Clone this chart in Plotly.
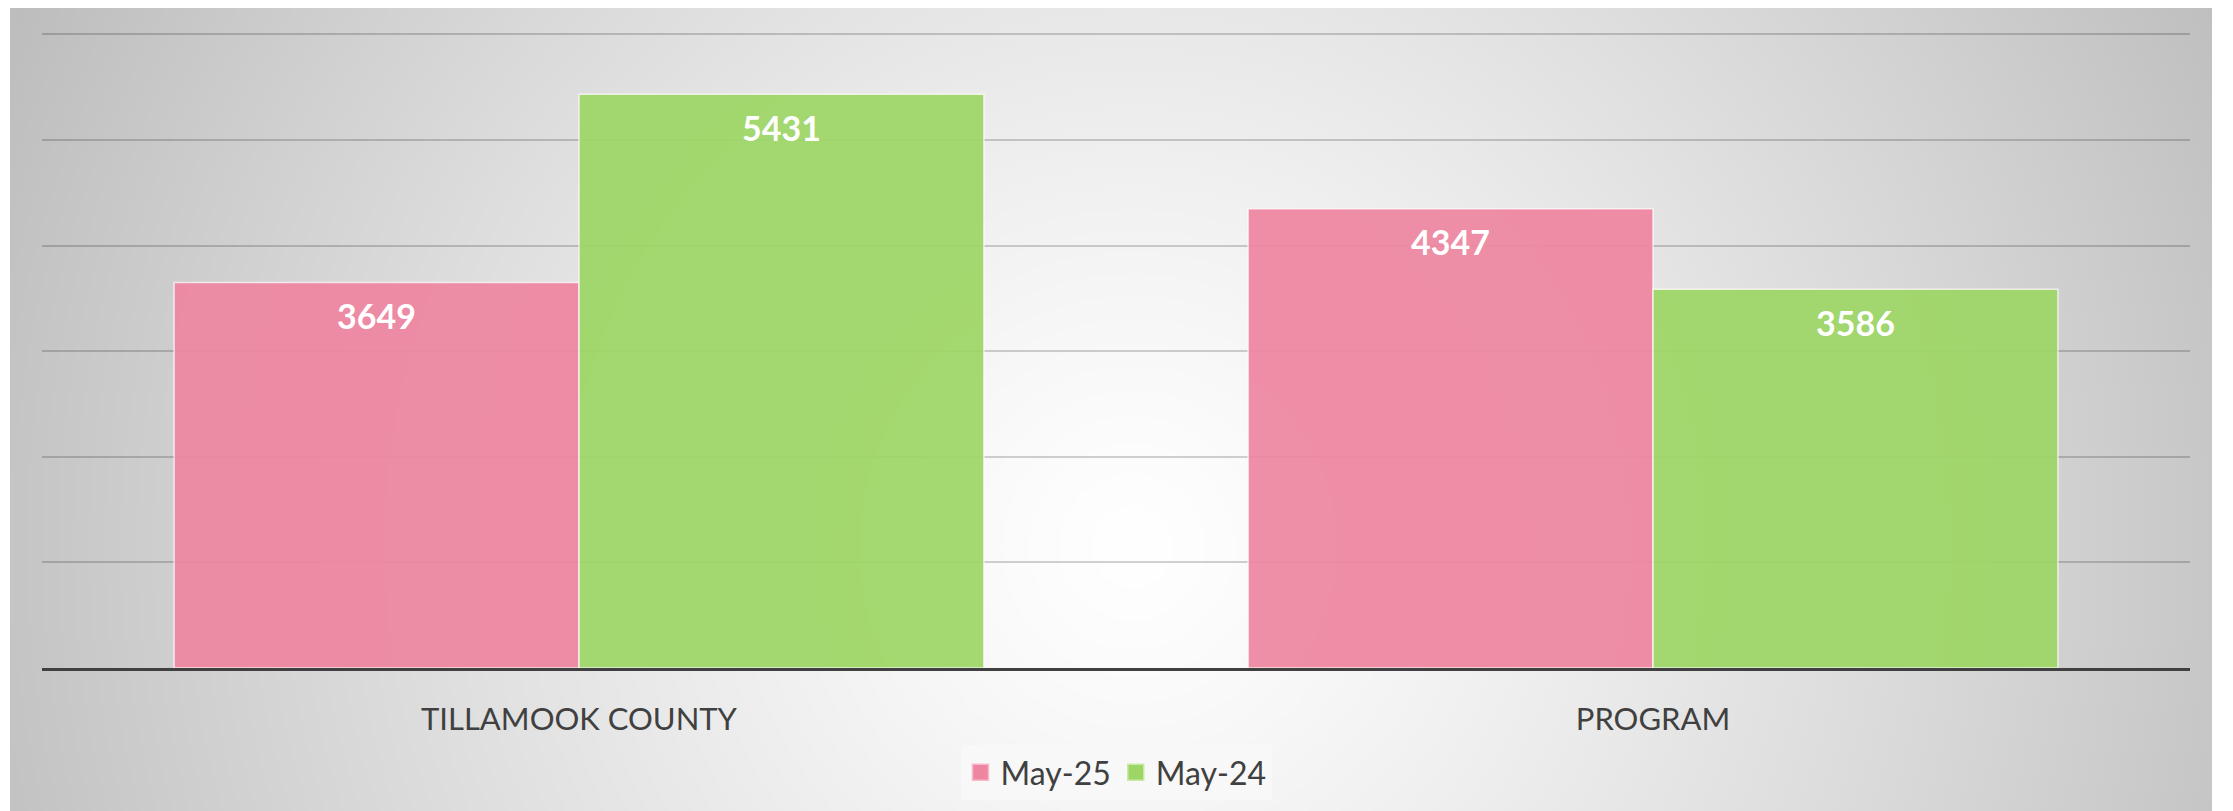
import base64
import struct
import zlib

import plotly.graph_objects as go

categories = ["TILLAMOOK COUNTY", "PROGRAM"]
series_names = ["May-25", "May-24"]
may_25 = [3649, 4347]
may_24 = [5431, 3586]
y_max = 6000
y_step = 1000

COLORS = {
    "pink": "#EF86A1",
    "pink_edge": "#F7B9C9",
    "green": "#9ED666",
    "green_edge": "#C8EAA6",
    "text": "#404040",
    "grid": "rgba(0,0,0,0.18)",
    "legend_bg": "#F8F8F8",
}

# page body has an 8px margin, so the figure is a bit smaller than the window
W, H = 2225, 803
L, R, T, B = 34, 43, 25, 143
PW, PH = W - L - R, H - T - B


def gradient_png(w, h, cx, cy, rmax, lo, hi=255):
    # grey radial backdrop, written as a tiny greyscale png
    rows = []
    for j in range(h):
        row = bytearray([0])
        for i in range(w):
            d = min(((i - cx) ** 2 + (j - cy) ** 2) ** 0.5 / rmax, 1.0)
            row.append(int(hi - (hi - lo) * d ** 1.25))
        rows.append(bytes(row))

    def chunk(tag, data):
        body = tag + data
        return struct.pack(">I", len(data)) + body + struct.pack(">I", zlib.crc32(body) & 0xFFFFFFFF)

    png = (
        b"\x89PNG\r\n\x1a\n"
        + chunk(b"IHDR", struct.pack(">IIBBBBB", w, h, 8, 0, 0, 0, 0))
        + chunk(b"IDAT", zlib.compress(b"".join(rows), 9))
        + chunk(b"IEND", b"")
    )
    return "data:image/png;base64," + base64.b64encode(png).decode()


# frame of the backdrop in figure pixels
fx0, fy0, fx1, fy1 = 2, 0, 2204, 806
scale = 4
bg = gradient_png(
    (fx1 - fx0) // scale, (fy1 - fy0) // scale,
    (1122 - fx0) / scale, (535 - fy0) / scale, 1260 / scale, 188,
)

x_idx = list(range(len(categories)))
series = [
    (series_names[0], may_25, COLORS["pink"], COLORS["pink_edge"]),
    (series_names[1], may_24, COLORS["green"], COLORS["green_edge"]),
]

fig = go.Figure()
for name, vals, color, edge in series:
    fig.add_trace(go.Bar(
        x=x_idx, y=vals, name=name, showlegend=False,
        marker=dict(color=color, opacity=0.93, line=dict(color="rgba(255,255,255,0.75)", width=1.5)),
        hoverinfo="skip",
    ))
# legend swatches
for name, vals, color, edge in series:
    fig.add_trace(go.Scatter(
        x=[None], y=[None], name=name, mode="markers",
        marker=dict(symbol="square", size=17, color=color, line=dict(color=edge, width=1.5)),
    ))

bar_w = (1 - 0.246) / 2
for vals, off in [(may_25, -bar_w / 2), (may_24, bar_w / 2)]:
    for i, v in enumerate(vals):
        fig.add_annotation(
            x=x_idx[i] + off, y=v, yshift=-33, text=f"<b>{v}</b>", showarrow=False,
            font=dict(family="Lato", size=34, color="white"), yanchor="middle",
        )

fig.add_layout_image(
    source=bg, xref="paper", yref="paper",
    x=(fx0 - L) / PW, y=(H - B - fy0) / PH,
    sizex=(fx1 - fx0) / PW, sizey=(fy1 - fy0) / PH,
    xanchor="left", yanchor="top", sizing="stretch", layer="below",
)

fig.update_layout(
    width=W, height=H,
    margin=dict(l=L, r=R, t=T, b=B, pad=0, autoexpand=False),
    paper_bgcolor="white",
    plot_bgcolor="rgba(0,0,0,0)",
    barmode="group", bargap=0.246, bargroupgap=0,
    font=dict(family="Lato", color=COLORS["text"]),
    legend=dict(
        orientation="h", x=0.5, xanchor="center", y=(H - B - 737) / PH, yanchor="top",
        bgcolor=COLORS["legend_bg"], font=dict(size=32, color=COLORS["text"]),
        itemwidth=30, traceorder="normal",
    ),
)
fig.update_xaxes(
    tickvals=x_idx, ticktext=categories, range=[-0.5, len(categories) - 0.5],
    showline=True, linecolor=COLORS["text"], linewidth=3,
    ticks="outside", ticklen=22, tickcolor="rgba(0,0,0,0)",
    tickfont=dict(family="Lato", size=31, color=COLORS["text"]),
    showgrid=False, zeroline=False, automargin=False,
)
fig.update_yaxes(
    range=[0, y_max * 1.002], dtick=y_step, showticklabels=False,
    gridcolor=COLORS["grid"], gridwidth=1.5, zeroline=False, automargin=False,
)

fig.write_html("out.html")
